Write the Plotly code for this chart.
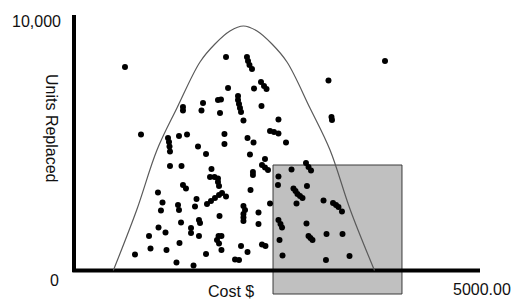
import plotly.graph_objects as go

# Scatter data (Cost $, Units Replaced)
cost = [628, 825, 1342, 1342, 1293, 1392, 1158, 1170, 1176, 1182, 1527,
        1872, 2130, 2143, 2161, 2192, 2303, 2340, 2371, 2217, 1897, 2020,
        2020, 2032, 2044, 2057, 1773, 1810, 1589, 1570, 1798, 2309, 2087,
        2518, 2414, 2463, 2518, 1853, 1853, 2137, 2211, 2611, 3830, 3134,
        3171, 3177, 1182, 1324, 1342, 1379, 1034, 1090, 1071, 1281, 1293,
        1509, 1490, 1539, 1552, 1318, 1041, 1441, 1441, 924, 1127, 1539,
        1299, 942, 1139, 751, 1262, 1472, 1626, 2167, 2352, 2315, 2352,
        2389, 1693, 2204, 2204, 1675, 1730, 1773, 1773, 1786, 1638, 1687,
        1736, 1786, 1823, 1872, 2174, 2518, 2512, 2679, 2703, 2728, 2752,
        2783, 2814, 2740, 2087, 2106, 2087, 2087, 2087, 2414, 2272, 1792,
        2272, 2518, 2543, 2562, 1780, 1816, 1761, 1786, 2531, 2315, 2358,
        2057, 1816, 2137, 1626, 2568, 1983, 2032, 2857, 2888, 2919, 2869,
        3073, 3190, 3227, 3257, 3300, 2863, 2888, 2912, 2937, 3110, 3307,
        3103, 3393]
units = [7965, 5323, 6399, 6262, 5264, 5323, 5186, 5029, 4853, 4658, 4853,
         8356, 8356, 8200, 8043, 7887, 7378, 7221, 7104, 7123, 7143, 6829,
         6673, 6517, 6360, 6204, 6673, 6693, 6556, 6262, 6165, 6439, 5871,
         5910, 5460, 5421, 5362, 5343, 4951, 5186, 5010, 5010, 8200, 7437,
         6008, 5891, 4090, 4090, 3346, 3209, 3053, 2662, 2348, 2564, 2368,
         2799, 2505, 1977, 1859, 1879, 1683, 1663, 1468, 1350, 1487, 1350,
         1076, 861, 802, 626, 313, 196, 4560, 4540, 4364, 4129, 4031,
         3934, 3973, 3855, 3738, 3660, 3660, 3601, 3464, 3307, 2603, 2720,
         2838, 2955, 3033, 2896, 3151, 3679, 3346, 3953, 3209, 3112, 2994,
         2916, 2838, 2622, 2525, 2368, 2211, 2074, 1937, 2622, 2270, 2133,
         1820, 1977, 1820, 1683, 1350, 1350, 1194, 1057, 1194, 1018, 959,
         959, 802, 724, 646, 587, 431, 411, 4208, 4051, 3914, 3307,
         2740, 2642, 2564, 2485, 2309, 1840, 1350, 1272, 1194, 1429, 1429,
         411, 568]

# Bell-shaped curve, points
curve_cost = [484, 772, 1022, 1268, 1552, 1736, 1921, 2087, 2254, 2438,
              2623, 2906, 3153, 3403, 3701]
curve_units = [0, 2368, 4716, 6360, 8161, 8865, 9374, 9570, 9374, 8865,
               8161, 6360, 4716, 2368, 0]

# Shaded box (cost range, units range)
box_cost = [2451, 4039]
box_units = [-920, 4129]

# Axis extents and labels
x_max = 5000
y_max = 10000
y_top_label = "10,000"
y_zero_label = "0"
x_max_label = "5000.00"
x_title = "Cost $"
y_title = "Units Replaced"

fig = go.Figure()

fig.add_trace(go.Scatter(
    x=curve_cost, y=curve_units, mode="lines",
    line=dict(color="#5a5a5a", width=1.2, shape="spline", smoothing=1.0),
    hoverinfo="skip"))

fig.add_trace(go.Scatter(
    x=cost, y=units, mode="markers",
    marker=dict(color="black", size=6, line=dict(width=0))))

fig.add_shape(type="rect", xref="x", yref="y",
              x0=box_cost[0], x1=box_cost[1], y0=box_units[0], y1=box_units[1],
              fillcolor="#c0c0c0", line=dict(color="#3a3a3a", width=1),
              layer="below")
fig.add_shape(type="line", xref="x", yref="y",
              x0=0, x1=0, y0=-55, y1=y_max,
              line=dict(color="black", width=4), layer="below")
fig.add_shape(type="line", xref="x", yref="y",
              x0=-20, x1=x_max, y0=0, y1=0,
              line=dict(color="black", width=4), layer="below")

font = dict(family="Liberation Sans, Arial, sans-serif", size=16, color="#111111")
W, H = 521, 301


def ann(text, px, py, xanchor="center", angle=0):
    fig.add_annotation(text=text, xref="paper", yref="paper",
                       x=px / W, y=1 - py / H, xanchor=xanchor, yanchor="middle",
                       showarrow=False, font=font, textangle=angle, borderpad=0)


ann(y_top_label, 62, 21, xanchor="right")
ann(y_zero_label, 60, 280, xanchor="right")
ann(x_max_label, 452, 289, xanchor="left")
ann(x_title, 231, 291)
ann(y_title, 52, 128, angle=90)

fig.update_layout(
    width=W, height=H, autosize=False,
    margin=dict(l=0, r=0, t=0, b=0, pad=0),
    paper_bgcolor="white", plot_bgcolor="white",
    showlegend=False,
    xaxis=dict(range=[-911.3, 5504.9], visible=False, fixedrange=True),
    yaxis=dict(range=[-1194, 10587], visible=False, fixedrange=True),
)

fig.write_html(
    "out.html",
    config={"displayModeBar": False},
    post_script="document.body.style.margin='0';document.body.style.overflow='hidden';",
)
